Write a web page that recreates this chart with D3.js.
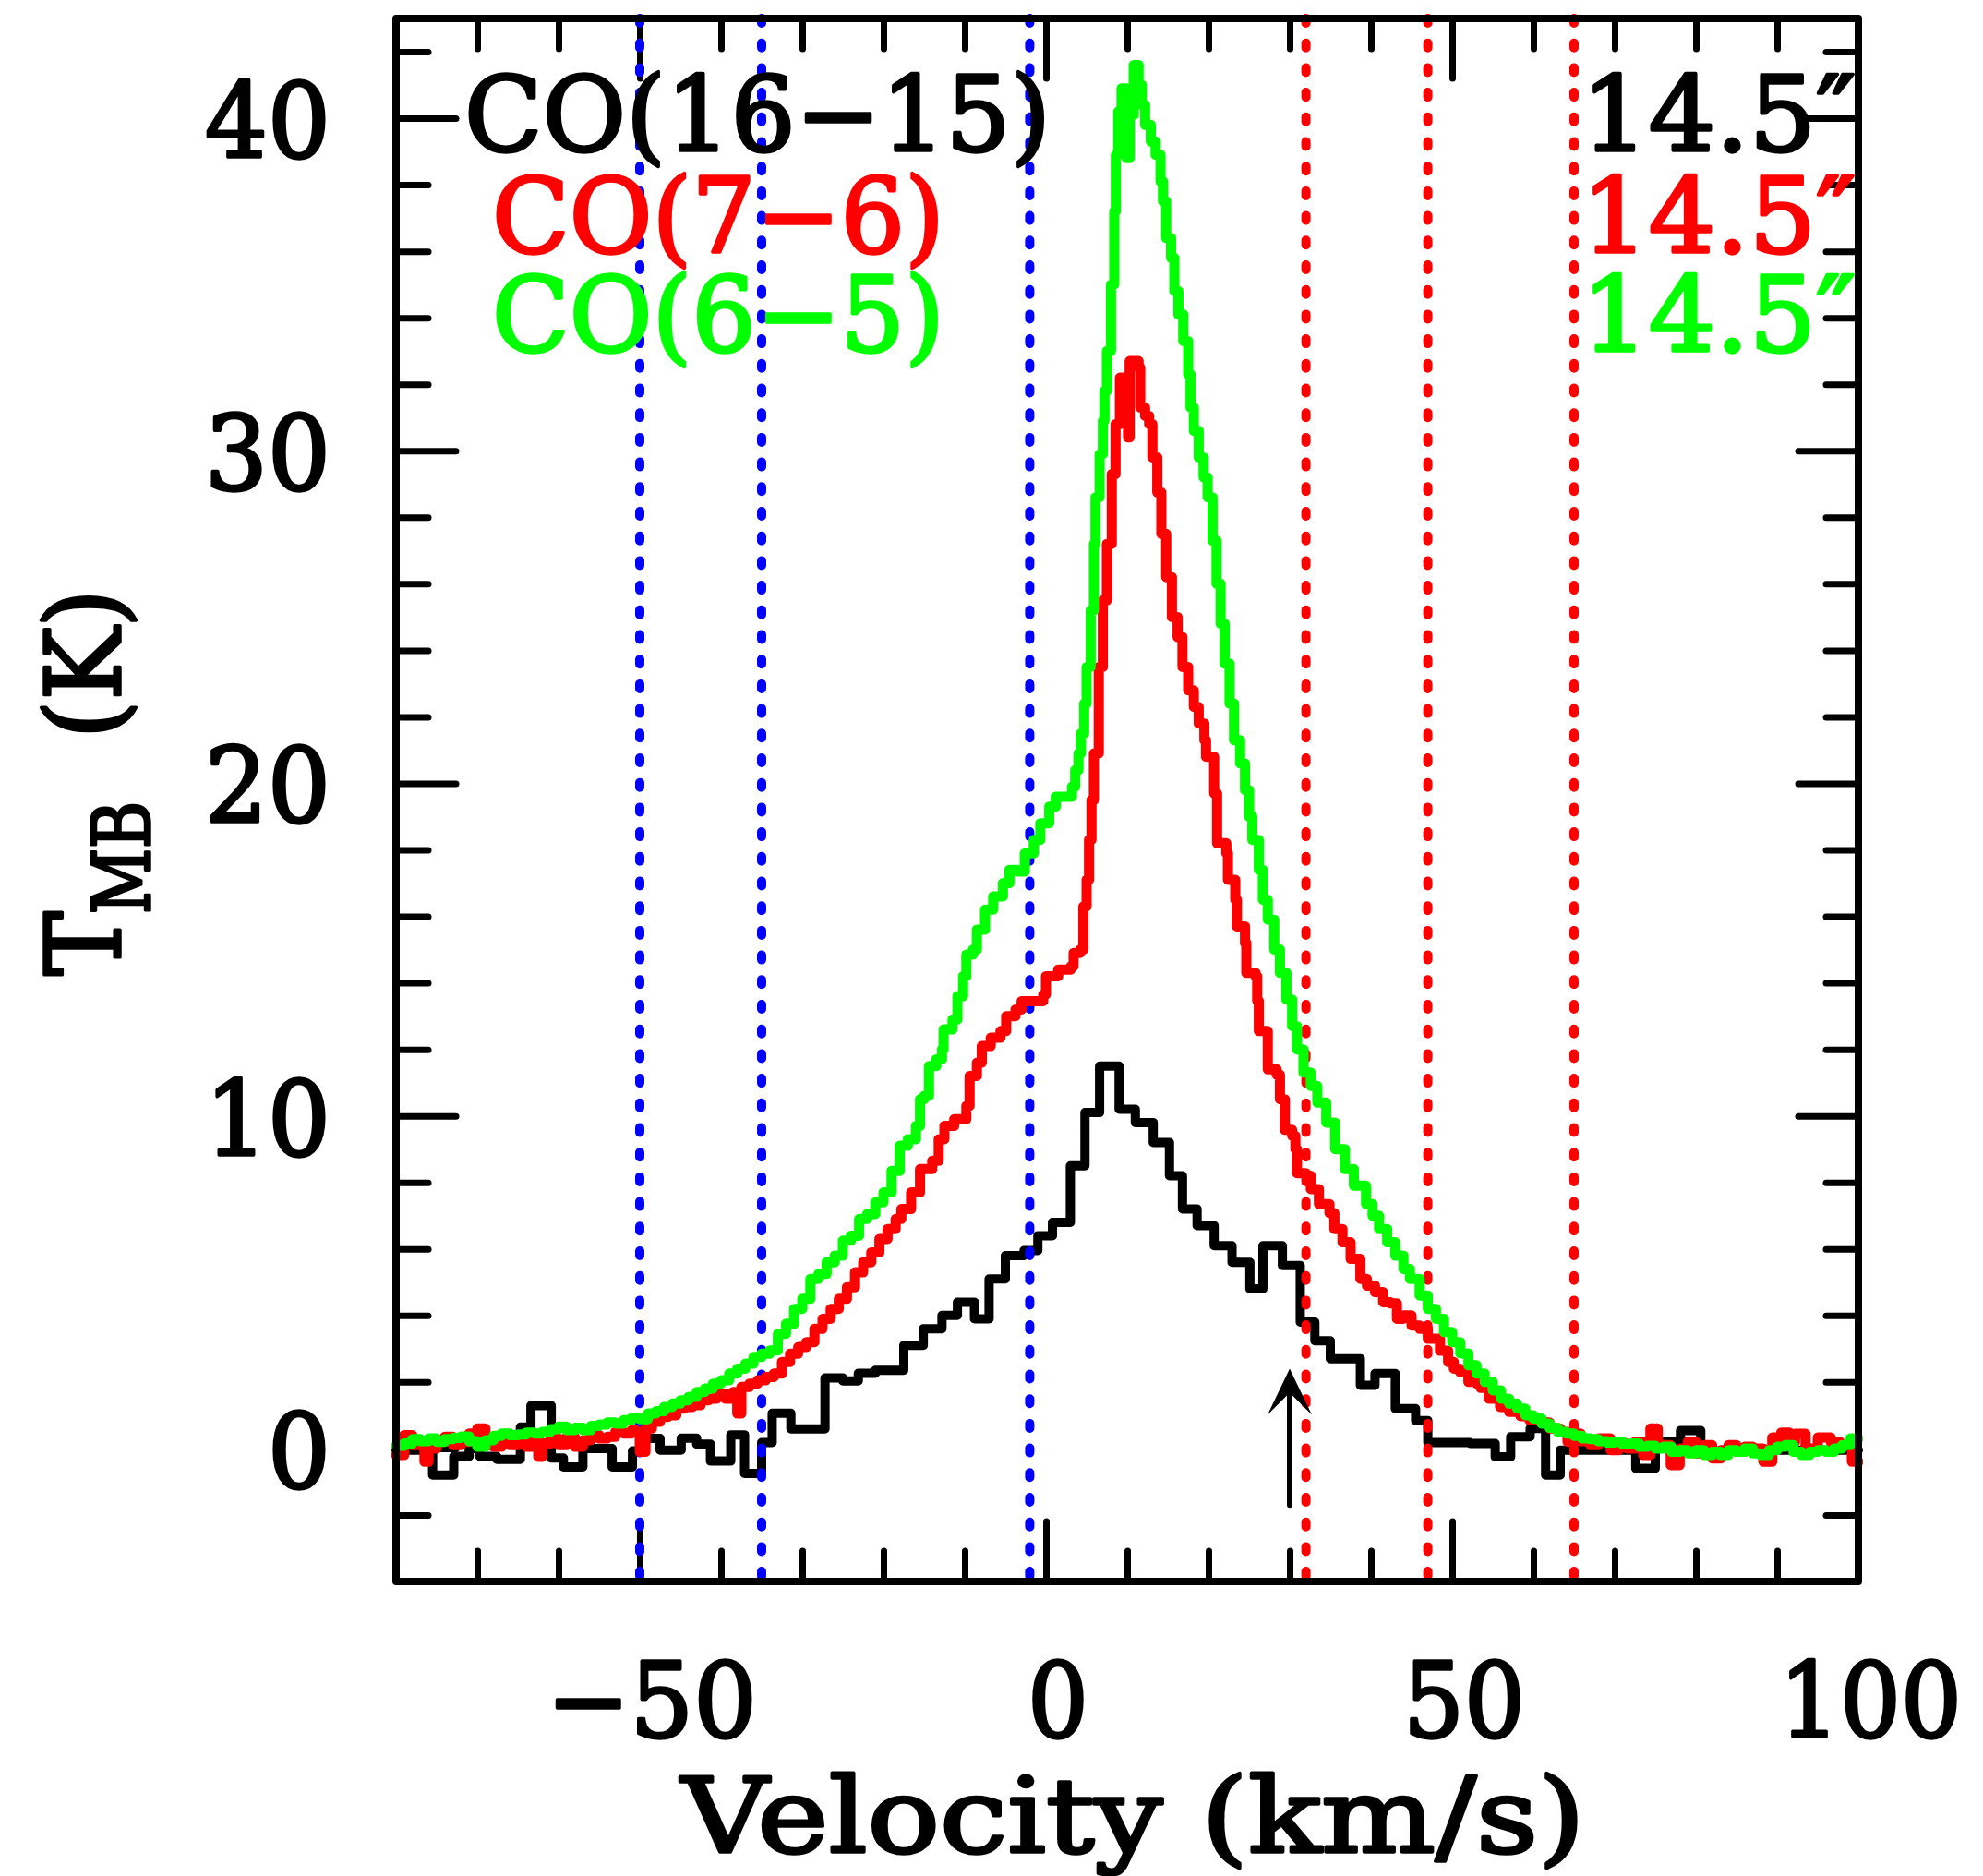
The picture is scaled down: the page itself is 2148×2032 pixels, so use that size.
<!DOCTYPE html>
<html>
<head>
<meta charset="utf-8">
<script src="https://cdn.jsdelivr.net/npm/d3@7"></script>
<style>
  body { margin: 0; background: #fff; }
  text { font-family: "DejaVu Serif", serif; stroke-width: 3.5; stroke-linejoin: round; }
</style>
</head>
<body>
<div id="chart"></div>
<script>
// ---- data ----
// CO(16-15), coarse channels: left edge of each channel and its T_MB
var blackVel = [-80, -75.5, -72.9, -71.0, -69.7, -67.6, -64.7, -63.4, -60.9, -59.4, -57.0, -53.4,
  -50.9, -49.4, -47.5, -44.9, -43.0, -41.3, -38.8, -37.1, -35.0, -33.7, -31.4, -27.2, -25.0, -23.1,
  -21.0, -17.5, -15.1, -12.8, -10.9, -8.8, -7.0, -5.0, -2.7, -1.0, 0.8, 3.0, 4.8, 6.6, 9.0, 11.0,
  13.2, 15.2, 16.8, 18.6, 20.7, 22.9, 25.1, 26.7, 29.1, 31.3, 33.1, 35.0, 38.7, 40.5, 43.0, 45.5,
  47.0, 52.2, 55.3, 57.2, 59.6, 61.5, 63.3, 72.6, 75.0, 78.1, 80.6, 83.0];
var blackTmb = [-0.05, -0.8, -0.24, 0.0, -0.24, -0.33, 0.64, 1.29, -0.29, -0.56, 0.0, -0.56,
  -0.07, 0.3, -0.05, 0.31, 0.13, -0.38, 0.41, -0.75, 0.18, 1.06, 0.59, 2.12, 2.03, 2.26,
  2.35, 3.1, 3.6, 4.0, 4.4, 3.9, 5.1, 5.8, 5.95, 6.4, 6.8, 8.5, 10.1, 11.5, 10.2, 9.8,
  9.2, 8.2, 7.2, 6.7, 6.1, 5.6, 4.8, 6.1, 5.5, 3.8, 3.24, 2.7, 1.9, 2.25, 1.2, 0.84,
  0.18, 0.15, -0.25, 0.35, 0.6, -0.8, -0.05, -0.6, 0.2, 0.54, -0.1, -0.05];

// CO(7-6)
var redVel = [-80, -79, -78, -77, -76.5, -76, -75, -74, -73, -72, -71, -70, -69, -68, -67, -66,
  -65, -64, -63, -62.5, -62, -61, -60, -59, -58, -57, -56, -55, -54, -53, -52, -51, -50.5, -50,
  -49.3, -48.5, -47.5, -46.5, -45.5, -44.5, -43.5, -42.5, -41.5, -40.5, -39.5, -38.5, -38, -37.5,
  -36.5, -35.5, -34.5, -33.5, -32.5, -31.5, -30.5, -29.5, -28.5, -27.5, -26.5, -25.5, -24.5, -23.5,
  -22.5, -21.5, -20.5, -19.5, -18.5, -17.8, -16.6, -15.5, -14.0, -13.2, -12.5, -11.3, -9.8, -9.4,
  -8.5, -7.9, -6.8, -5.6, -4.9, -3.75, -3.0, -1.5, -0.34, 0.0, 1.5, 3.07, 3.4, 4.2, 4.6, 5.0,
  5.3, 5.6, 5.9, 6.5, 7.0, 7.5, 8.1, 8.56, 9.1, 9.6, 10.1, 10.3, 10.8, 11.4, 11.6, 12.2, 12.7,
  13.1, 13.7, 14.2, 14.8, 15.5, 16.2, 16.8, 17.5, 18.2, 18.8, 19.5, 19.7, 20.7, 21.06, 22.2, 22.4,
  23.3, 23.5, 24.5, 24.66, 25.8, 26.0, 26.2, 27.1, 27.3, 28.4, 28.8, 29.4, 30.3, 30.7, 30.9, 32.0,
  32.6, 33.6, 34.9, 35.5, 36.5, 37.5, 38.7, 39.5, 40.5, 41.5, 42.4, 43.2, 44, 45, 46, 47, 48.5,
  49.5, 50.2, 51, 52, 53, 53.5, 54.5, 55.2, 55.9, 57, 58.4, 59.5, 60.9, 62, 63.3, 64.2, 65, 65.8,
  67, 68, 69.5, 70.5, 71.5, 72.5, 73.5, 74.4, 75.3, 76.9, 78, 79, 80, 81, 82, 83.1, 84, 85, 86,
  87, 88.3, 89.4, 90.5, 91.5, 92.2, 93.5, 95, 96.6, 97.7, 99.2];
var redTmb = [-0.2, 0.4, 0.1, 0.15, -0.4, 0.0, 0.2, 0.35, 0.1, 0.2, 0.45, 0.6, 0.1, 0.05, 0.2, 0.1,
  0.25, 0.05, 0.3, -0.25, 0.15, 0.3, 0.1, 0.35, 0.05, 0.25, 0.4, 0.3, 0.35, 0.5, 0.45, 0.55, 0.5, -0.1,
  0.6, 0.8, 0.95, 1.0, 1.2, 1.25, 1.3, 1.45, 1.5, 1.65, 1.5, 1.7, 1.05, 1.85,
  1.95, 2.05, 2.15, 2.25, 2.6, 2.85, 3.05, 3.2, 3.6, 3.9, 4.2, 4.5, 4.85, 5.3,
  5.6, 5.9, 6.3, 6.6, 6.9, 7.2, 7.7, 8.4, 8.65, 9.3, 9.7, 9.9, 10.3, 11.2,
  11.6, 12.1, 12.35, 12.55, 13.0, 13.2, 13.45, 13.45, 13.65, 14.2, 14.4, 14.5, 14.9, 15.0, 16.3, 17.1,
  18.3, 19.5, 20.9, 23.5, 25.5, 27.2, 29.3, 30.8, 32.2, 31.5, 30.4, 32.7, 32.7, 32.5, 31.3, 31.05, 30.8,
  29.8, 28.75, 27.5, 26.2, 25.0, 24.4, 23.5, 22.8, 22.3, 21.8, 21.3, 20.8, 19.7, 18.2, 17.9, 17.1,
  16.5, 15.7, 15.2, 14.3, 14.2, 13.46, 12.55, 12.55, 11.4, 11.24, 10.5, 9.58, 9.4, 9.0, 8.28, 8.2,
  7.8, 7.35, 7.08, 6.6, 6.2, 5.7, 5.1, 4.9, 4.7, 4.4, 4.36, 3.9, 4.0, 3.7, 3.6, 3.3, 2.94,
  2.6, 2.4, 2.29, 2.0, 1.95, 1.82, 1.5, 1.6, 1.25, 1.1, 0.97, 0.85, 0.78, 0.6, 0.5, 0.2, 0.45, 0.22,
  0.1, 0.3, -0.05, 0.15, 0.0, 0.2, -0.2, 0.6, 0.1, -0.5, 0.0, 0.2, -0.15, 0.1, -0.3, -0.05, 0.1, -0.1, 0.05,
  0.0, -0.4, 0.33, 0.48, 0.2, 0.44, 0.0, 0.33, 0.2, 0.1, -0.4];

// CO(6-5)
var greenVel = [-80, -79, -78, -77, -76, -75, -74, -73, -72, -71, -70, -69, -68, -67, -66, -65,
  -64, -63, -62, -61, -60, -59, -58, -57, -56, -55, -54, -53, -52, -51, -50, -49, -48, -47, -46,
  -45, -44, -43, -42, -41, -40, -39, -38, -37, -36, -35, -34, -33, -32, -31, -30, -29, -28, -27,
  -26, -25, -24, -23, -22, -21, -20, -19, -18, -17, -16, -15.5, -15, -14.4, -13.5, -12.8, -12.6,
  -11.5, -10.9, -10.2, -9.8, -9.0, -8.5, -7.5, -6.5, -5.3, -4.5, -3.5, -2.6, -1.5, -0.7, 0.4, 1.2,
  2.3, 3.2, 3.6, 4.0, 4.3, 4.7, 5.0, 5.5, 5.9, 6.1, 6.6, 7.0, 7.2, 7.5, 8.0, 8.4, 8.6, 8.9, 9.3,
  9.9, 10.3, 10.8, 11.4, 11.8, 12.2, 12.9, 13.5, 14.1, 14.4, 14.8, 15.4, 15.8, 16.3, 16.9, 17.5,
  17.8, 18.2, 18.8, 19.4, 19.9, 20.5, 21.0, 21.5, 22.0, 22.6, 23.15, 23.9, 24.5, 25.0, 25.4, 26.2,
  26.7, 27.3, 28.1, 28.8, 29.6, 30.3, 30.9, 31.7, 32.6, 33.4, 34.5, 35.6, 36.8, 37.9, 39.4, 40.2,
  41, 42, 43, 44, 44.8, 46, 47, 48, 49, 50, 51, 52, 53, 54, 55, 56, 57, 58, 59, 60, 61, 62, 63, 64,
  65, 66, 67, 68, 69, 70, 71, 72, 73, 74, 75, 76, 77, 78, 79, 80, 81, 82, 83, 84, 85, 86, 87, 88,
  89, 90, 91, 92, 93, 94, 95, 96, 97, 98, 99];
var greenTmb = [0.08, 0.15, 0.28, 0.22, 0.30, 0.20, 0.28, 0.32, 0.36, 0.22, 0.05, 0.25, 0.38, 0.45, 0.40, 0.42,
  0.48, 0.45, 0.50, 0.58, 0.66, 0.55, 0.62, 0.55, 0.68, 0.72, 0.78, 0.75, 0.85, 0.92, 0.88, 1.05, 1.12, 1.25, 1.35,
  1.45, 1.55, 1.70, 1.80, 1.95, 2.05, 2.25, 2.40, 2.55, 2.75, 2.85, 2.95, 3.45, 3.75, 4.20, 4.50, 5.10, 5.25, 5.60,
  5.80, 6.25, 6.40, 6.90, 7.05, 7.40, 7.70, 8.35, 9.10, 9.30, 9.70, 10.5, 10.6, 11.5, 11.7, 12.0, 12.6,
  12.9, 13.6, 14.2, 14.85, 15.0, 15.6, 16.2, 16.6, 17.0, 17.4, 17.35, 17.9, 18.3, 18.8, 19.3, 19.6,
  19.6, 19.9, 20.4, 20.9, 21.5, 22.4, 23.5, 25.2, 27.2, 28.6, 29.9, 30.9, 31.8, 33.0, 35.0, 37.2, 38.9, 40.2, 40.9,
  38.8, 40.1, 41.6, 41.0, 40.4, 39.8, 39.3, 38.9, 38.1, 37.5, 36.4, 35.8, 34.8, 34.1, 33.3, 32.3,
  31.3, 30.6, 29.8, 29.2, 28.6, 27.3, 26.0, 24.8, 23.6, 22.4, 21.3, 20.6, 19.8, 19.0, 18.3, 17.4,
  16.5, 15.9, 15.0, 14.3, 13.5, 12.7, 12.0, 11.3, 10.9, 10.4, 9.8, 9.0, 8.4, 7.9, 7.35, 7.0,
  6.6, 6.2, 5.8, 5.4, 5.1, 4.6, 4.2, 3.9, 3.5, 3.2, 2.86, 2.5, 2.25, 2.0, 1.75, 1.5, 1.35, 1.2, 1.0, 0.9, 0.75, 0.62, 0.5, 0.45,
  0.38, 0.3, 0.28, 0.22, 0.18, 0.20, 0.12, 0.15, 0.05, 0.08, 0.0, 0.05, -0.1, -0.05, -0.15, -0.05, -0.2, -0.1, -0.2, -0.05, -0.1, 0.0, -0.15, -0.2,
  -0.05, 0.05, 0.1, -0.1, -0.2, -0.1, -0.05, -0.1, 0.0, 0.1, 0.3];

// velocity markers and labels
var blueMarks = [-50, -35, -2];
var redMarks = [32, 47, 65];
var arrowVel = 30, arrowFrom = -1.7, arrowTo = 2.4;
var lineNames = ["CO(16\u221215)", "CO(7\u22126)", "CO(6\u22125)"];
var beamNames = ["14.5\u2033", "14.5\u2033", "14.5\u2033"];
var lineColors = ["#000000", "#ff0000", "#00ff00"];
var xMajor = [-50, 0, 50, 100];
var xMinor = [-70, -60, -40, -30, -20, -10, 10, 20, 30, 40, 60, 70, 80, 90];
var yMajor = [0, 10, 20, 30, 40];
var yMinor = [-2, 2, 4, 6, 8, 12, 14, 16, 18, 22, 24, 26, 28, 32, 34, 36, 38, 42];

// ---- layout ----
var svgWidth = 2148;
var svgHeight = 2032;
var margin = { top: 20, right: 135, bottom: 319, left: 429 };
var width = svgWidth - margin.left - margin.right;
var height = svgHeight - margin.top - margin.bottom;
var fontSize = 113;

var svg = d3.select("#chart")
  .append("svg")
  .attr("width", svgWidth)
  .attr("height", svgHeight)
  .style("display", "block");

var chartGroup = svg.append("g")
  .attr("transform", `translate(${margin.left}, ${margin.top})`);

var xLinearScale = d3.scaleLinear().domain([-80, 100]).range([0, width]);
var yLinearScale = d3.scaleLinear().domain([-4, 43]).range([height, 0]);

// inward ticks on all four sides
function addTicks(axis, values, size, shift) {
  var g = chartGroup.append("g")
    .attr("transform", shift)
    .call(axis.tickValues(values).tickSize(-size).tickFormat(""));
  g.select(".domain").remove();
  g.selectAll("line")
    .attr("stroke", "#000")
    .attr("stroke-width", 7)
    .attr("stroke-linecap", "round");
}
addTicks(d3.axisBottom(xLinearScale), xMinor, 33, `translate(0, ${height})`);
addTicks(d3.axisBottom(xLinearScale), xMajor.slice(0, 3), 65, `translate(0, ${height})`);
addTicks(d3.axisTop(xLinearScale), xMinor, 33, "translate(0, 0)");
addTicks(d3.axisTop(xLinearScale), xMajor.slice(0, 3), 65, "translate(0, 0)");
addTicks(d3.axisLeft(yLinearScale), yMinor, 35, "translate(0, 0)");
addTicks(d3.axisLeft(yLinearScale), yMajor, 65, "translate(0, 0)");
addTicks(d3.axisRight(yLinearScale), yMinor, 35, `translate(${width}, 0)`);
addTicks(d3.axisRight(yLinearScale), yMajor, 65, `translate(${width}, 0)`);

// clip for the spectra
svg.append("defs").append("clipPath").attr("id", "plotClip")
  .append("rect").attr("x", -5).attr("y", -5).attr("width", width + 10).attr("height", height + 10);

var plot = chartGroup.append("g").attr("clip-path", "url(#plotClip)");

function stepLine(vels, temps, lastEdge) {
  var pts = vels.map((v, i) => [v, temps[i]]);
  pts.push([lastEdge, temps[temps.length - 1]]);
  return d3.line()
    .x(d => xLinearScale(d[0]))
    .y(d => yLinearScale(d[1]))
    .curve(d3.curveStepAfter)(pts);
}

plot.append("path")
  .attr("d", stepLine(blackVel, blackTmb, 100))
  .attr("fill", "none").attr("stroke", "#000").attr("stroke-width", 10)
  .attr("stroke-linejoin", "round").attr("stroke-linecap", "round");

// dotted velocity limits
function markLines(values, color) {
  plot.selectAll(null)
    .data(values)
    .enter()
    .append("line")
    .attr("x1", d => xLinearScale(d)).attr("x2", d => xLinearScale(d))
    .attr("y1", yLinearScale(43)).attr("y2", yLinearScale(-4))
    .attr("stroke", color).attr("stroke-width", 10)
    .attr("stroke-linecap", "round")
    .attr("stroke-dasharray", "5 21.7");
}
markLines(blueMarks, "#0000ff");
markLines(redMarks, "#ff0000");

plot.append("path")
  .attr("d", stepLine(redVel, redTmb, 100))
  .attr("fill", "none").attr("stroke", "#ff0000").attr("stroke-width", 11)
  .attr("stroke-linejoin", "round").attr("stroke-linecap", "round");

plot.append("path")
  .attr("d", stepLine(greenVel, greenTmb, 100))
  .attr("fill", "none").attr("stroke", "#00ff00").attr("stroke-width", 11)
  .attr("stroke-linejoin", "round").attr("stroke-linecap", "round");

// arrow
var ax = xLinearScale(arrowVel);
chartGroup.append("line")
  .attr("x1", ax).attr("x2", ax)
  .attr("y1", yLinearScale(arrowFrom)).attr("y2", yLinearScale(arrowTo) + 24)
  .attr("stroke", "#000").attr("stroke-width", 6).attr("stroke-linecap", "round");
chartGroup.append("path")
  .attr("transform", `translate(${ax}, ${yLinearScale(arrowTo)})`)
  .attr("d", "M0,0 L-24,50 L0,26 L24,50 Z")
  .attr("fill", "#000");

// frame
chartGroup.append("rect")
  .attr("width", width).attr("height", height)
  .attr("fill", "none").attr("stroke", "#000").attr("stroke-width", 8)
  .attr("stroke-linejoin", "round");

// tick labels
chartGroup.selectAll(null)
  .data(yMajor)
  .enter()
  .append("text")
  .attr("x", -71)
  .attr("y", d => yLinearScale(d) + 42)
  .attr("text-anchor", "end")
  .attr("font-size", fontSize)
  .attr("stroke", "#000")
  .attr("textLength", d => String(d).length * 68)
  .attr("lengthAdjust", "spacingAndGlyphs")
  .text(d => d);

chartGroup.selectAll(null)
  .data(xMajor)
  .enter()
  .append("text")
  .attr("x", d => xLinearScale(d) + 13)
  .attr("y", 1881 - margin.top)
  .attr("text-anchor", "middle")
  .attr("font-size", fontSize)
  .attr("stroke", "#000")
  .attr("textLength", d => (d < 0 ? 96 : 0) + String(Math.abs(d)).length * 66)
  .attr("lengthAdjust", "spacingAndGlyphs")
  .text(d => d < 0 ? "\u2212" + Math.abs(d) : d);

// axis titles
svg.append("text")
  .attr("x", 738).attr("y", 2006)
  .attr("font-size", fontSize)
  .attr("stroke", "#000")
  .attr("textLength", 979).attr("lengthAdjust", "spacingAndGlyphs")
  .text("Velocity (km/s)");

svg.append("text")
  .attr("transform", "translate(130, 1057) rotate(-90)")
  .attr("font-size", fontSize)
  .attr("stroke", "#000")
  .attr("textLength", 70).attr("lengthAdjust", "spacingAndGlyphs")
  .text("T");
svg.append("text")
  .attr("transform", "translate(162, 990) rotate(-90)")
  .attr("font-size", 86)
  .attr("stroke", "#000")
  .attr("textLength", 122).attr("lengthAdjust", "spacingAndGlyphs")
  .text("MB");
svg.append("text")
  .attr("transform", "translate(130, 800) rotate(-90)")
  .attr("font-size", fontSize)
  .attr("stroke", "#000")
  .attr("textLength", 162).attr("lengthAdjust", "spacingAndGlyphs")
  .text("(K)");

// line names (left) and beam sizes (right)
var nameX = [503, 533, 533];
var nameLen = [635, 490, 490];
var rowY = [163, 273, 380];
svg.selectAll(null)
  .data(lineNames)
  .enter()
  .append("text")
  .attr("x", (d, i) => nameX[i])
  .attr("y", (d, i) => rowY[i])
  .attr("font-size", fontSize)
  .attr("fill", (d, i) => lineColors[i])
  .attr("stroke", (d, i) => lineColors[i])
  .attr("textLength", (d, i) => nameLen[i])
  .attr("lengthAdjust", "spacingAndGlyphs")
  .text(d => d);

svg.selectAll(null)
  .data(beamNames)
  .enter()
  .append("text")
  .attr("x", 1713)
  .attr("y", (d, i) => rowY[i])
  .attr("font-size", fontSize)
  .attr("fill", (d, i) => lineColors[i])
  .attr("stroke", (d, i) => lineColors[i])
  .attr("textLength", 297)
  .attr("lengthAdjust", "spacingAndGlyphs")
  .text(d => d);
</script>
</body>
</html>
